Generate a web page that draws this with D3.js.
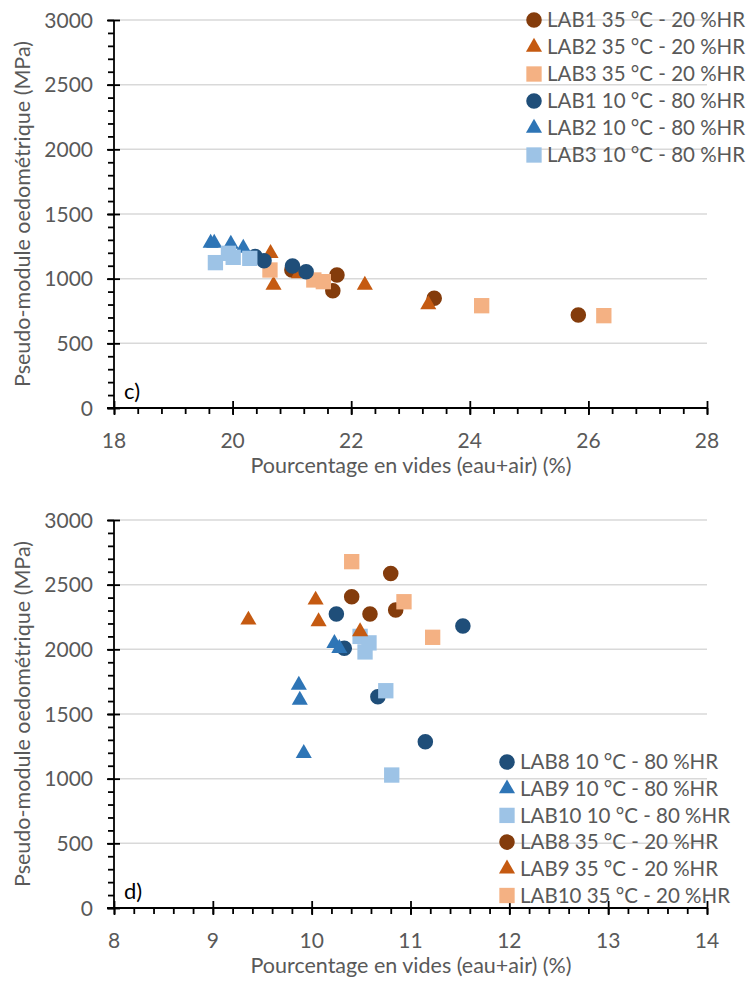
<!DOCTYPE html>
<html><head><meta charset="utf-8">
<script src="https://cdn.jsdelivr.net/npm/d3@7"></script>
<style>body{margin:0;background:#fff}svg{display:block}text{font-family:Lato,"Open Sans",sans-serif}</style>
</head><body><svg id="c" width="747" height="981"></svg>
<script>
// ---- Chart c) data ----
const cSeriesNames = ["LAB1 35 °C - 20 %HR","LAB2 35 °C - 20 %HR","LAB3 35 °C - 20 %HR","LAB1 10 °C - 80 %HR","LAB2 10 °C - 80 %HR","LAB3 10 °C - 80 %HR"];
const cLab1_35 = [[21.00,1067],[21.76,1028],[21.69,907],[23.40,848],[25.83,719]];
const cLab2_35 = [[20.64,1196],[20.69,951],[21.12,1040],[22.23,951],[23.30,800]];
const cLab3_35 = [[20.63,1067],[21.37,990],[21.53,977],[24.20,791],[26.26,714]];
const cLab1_10 = [[20.38,1172],[20.53,1139],[21.01,1098],[21.24,1054]];
const cLab2_10 = [[19.63,1275],[19.69,1275],[19.97,1268],[20.18,1236]];
const cLab3_10 = [[19.71,1124],[19.93,1196],[20.01,1165],[20.29,1157]];
const cXTicks = [18,20,22,24,26,28];

// ---- Chart d) data ----
const dSeriesNames = ["LAB8 10 °C - 80 %HR","LAB9 10 °C - 80 %HR","LAB10 10 °C - 80 %HR","LAB8 35 °C - 20 %HR","LAB9 35 °C - 20 %HR","LAB10 35 °C - 20 %HR"];
const dLab8_10 = [[10.25,2273],[10.33,2008],[11.53,2180],[10.67,1634],[11.15,1286]];
const dLab9_10 = [[10.23,2047],[10.28,2008],[9.87,1724],[9.88,1608],[9.92,1196]];
const dLab10_10 = [[10.49,2100],[10.58,2050],[10.54,1980],[10.75,1680],[10.81,1028]];
const dLab8_35 = [[10.80,2587],[10.405,2407],[10.59,2273],[10.85,2304]];
const dLab9_35 = [[9.36,2227],[10.04,2382],[10.07,2214],[10.49,2137]];
const dLab10_35 = [[10.405,2678],[10.934,2368],[11.224,2093]];
const dXTicks = [8,9,10,11,12,13,14];

const yTicks = [0,500,1000,1500,2000,2500,3000];
const yTitle = "Pseudo-module oedométrique (MPa)";
const xTitle = "Pourcentage en vides (eau+air) (%)";

const COL = {dbrown:"#843C0C", orange:"#C55A11", lorange:"#F4B183", dblue:"#1F4E79", blue:"#2E75B6", lblue:"#9DC3E6"};
const SYM = {circle:[d3.symbolCircle,190], tri:[d3.symbolTriangle,112], sq:[d3.symbolSquare,235]};

const svg = d3.select("#c");

function styleAxis(s){
  s.select(".domain").remove();
  s.selectAll("line").attr("stroke","#000").attr("stroke-width",1.8);
}

function drawChart(o){
  const g = svg.append("g");
  const x = d3.scaleLinear().domain(o.xDomain).range([114,707]);
  const y = d3.scaleLinear().domain([0,3000]).range([o.bottom,o.top]);
  // gridlines
  g.selectAll(".grid").data(yTicks.filter(t=>t>0)).join("line")
    .attr("x1",114).attr("x2",707).attr("y1",d=>y(d)).attr("y2",d=>y(d))
    .attr("stroke","#d9d9d9").attr("stroke-width",1.5);
  // y axis: minor ticks (left), major ticks (crossing)
  g.append("g").attr("transform","translate(114,0)")
    .call(d3.axisLeft(y).tickValues(d3.range(0,3001,100)).tickSize(6).tickFormat("")).call(styleAxis);
  g.append("g").attr("transform","translate(114,0)")
    .call(d3.axisLeft(y).tickValues(yTicks).tickSize(7).tickFormat("")).call(styleAxis);
  g.append("g").attr("transform","translate(114,0)")
    .call(d3.axisRight(y).tickValues(yTicks).tickSize(6).tickFormat("")).call(styleAxis);
  g.append("line").attr("x1",114).attr("x2",114).attr("y1",y(3000)).attr("y2",y(0)).attr("stroke","#000").attr("stroke-width",1.8);
  g.selectAll(".ylab").data(yTicks).join("text")
    .attr("x",93).attr("y",d=>y(d)).attr("dy","0.36em").attr("text-anchor","end")
    .attr("font-size",21).attr("fill","#595959").text(d=>d);
  // x axis
  g.append("g").attr("transform",`translate(0,${o.bottom})`)
    .call(d3.axisBottom(x).tickValues(o.xMinor).tickSize(6).tickFormat("")).call(styleAxis);
  g.append("g").attr("transform",`translate(0,${o.bottom})`)
    .call(d3.axisBottom(x).tickValues(o.xTicks).tickSize(7).tickFormat("")).call(styleAxis);
  g.append("g").attr("transform",`translate(0,${o.bottom})`)
    .call(d3.axisTop(x).tickValues(o.xTicks).tickSize(7).tickFormat("")).call(styleAxis);
  g.append("line").attr("x1",x(o.xDomain[0])-7).attr("x2",x(o.xDomain[1])).attr("y1",o.bottom).attr("y2",o.bottom).attr("stroke","#000").attr("stroke-width",1.8);
  g.selectAll(".xlab").data(o.xTicks).join("text")
    .attr("x",d=>x(d)).attr("y",o.bottom+40).attr("text-anchor","middle")
    .attr("font-size",21).attr("fill","#595959").text(d=>d);
  // titles
  g.append("text").attr("x",411).attr("y",o.bottom+65).attr("text-anchor","middle")
    .attr("font-size",21.5).attr("fill","#595959").text(xTitle);
  g.append("text").attr("transform",`translate(30,${(o.top+o.bottom)/2}) rotate(-90)`).attr("text-anchor","middle")
    .attr("font-size",21.5).attr("fill","#595959").text(yTitle);
  g.append("text").attr("x",124).attr("y",o.bottom-9).attr("font-size",22).attr("fill","#000").text(o.label);
  // points
  o.series.forEach(s=>{
    const [type,size] = SYM[s.shape];
    g.append("g").selectAll("path").data(s.data).join("path")
      .attr("transform",d=>`translate(${x(d[0])},${y(d[1])})`)
      .attr("d",d3.symbol().type(type).size(size)).attr("fill",s.color);
  });
  // legend
  o.series.forEach((s,i)=>{
    const ly = o.legY + i*o.legStep;
    const [type,size] = SYM[s.shape];
    g.append("path").attr("transform",`translate(${o.legX},${ly})`)
      .attr("d",d3.symbol().type(type).size(size)).attr("fill",s.color);
    g.append("text").attr("x",o.legX+13).attr("y",ly).attr("dy","0.36em")
      .attr("font-size",20.5).attr("fill","#595959").text(s.name);
  });
}

drawChart({
  top:20, bottom:408, xDomain:[18,28], xTicks:cXTicks, xMinor:d3.range(18,28.001,0.4), label:"c)",
  legX:534, legY:20, legStep:27,
  series:[
    {name:cSeriesNames[0],data:cLab1_35,shape:"circle",color:COL.dbrown},
    {name:cSeriesNames[1],data:cLab2_35,shape:"tri",color:COL.orange},
    {name:cSeriesNames[2],data:cLab3_35,shape:"sq",color:COL.lorange},
    {name:cSeriesNames[3],data:cLab1_10,shape:"circle",color:COL.dblue},
    {name:cSeriesNames[4],data:cLab2_10,shape:"tri",color:COL.blue},
    {name:cSeriesNames[5],data:cLab3_10,shape:"sq",color:COL.lblue}
  ]
});
drawChart({
  top:520, bottom:908, xDomain:[8,14], xTicks:dXTicks, xMinor:d3.range(8,14.001,0.2), label:"d)",
  legX:507, legY:762, legStep:26.7,
  series:[
    {name:dSeriesNames[0],data:dLab8_10,shape:"circle",color:COL.dblue},
    {name:dSeriesNames[1],data:dLab9_10,shape:"tri",color:COL.blue},
    {name:dSeriesNames[2],data:dLab10_10,shape:"sq",color:COL.lblue},
    {name:dSeriesNames[3],data:dLab8_35,shape:"circle",color:COL.dbrown},
    {name:dSeriesNames[4],data:dLab9_35,shape:"tri",color:COL.orange},
    {name:dSeriesNames[5],data:dLab10_35,shape:"sq",color:COL.lorange}
  ]
});
</script></body></html>
